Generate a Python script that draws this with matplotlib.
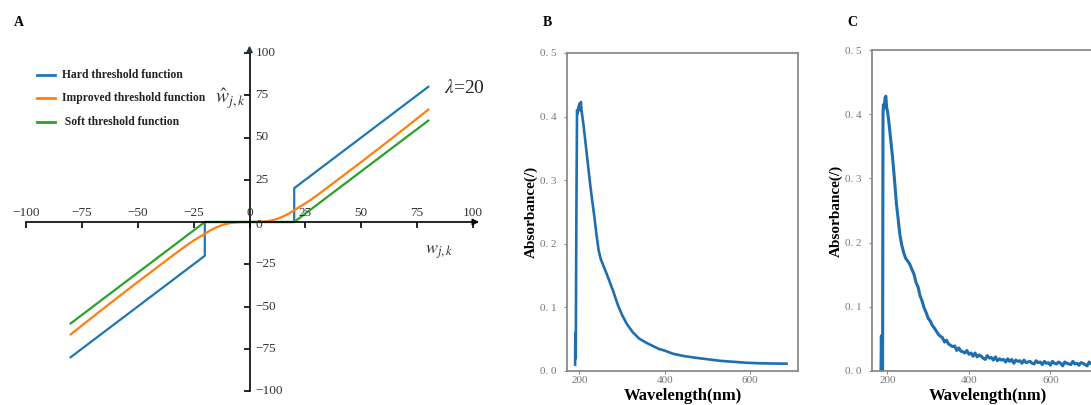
import matplotlib
matplotlib.use("Agg")
import matplotlib.pyplot as plt
from matplotlib.lines import Line2D

plt.rcParams['font.family'] = ['Liberation Serif', 'DejaVu Serif']
plt.rcParams['mathtext.fontset'] = 'stix'

# ---- panel A: threshold functions (lambda = 20) ----
hard_w = [-80, -20, -20, 20, 20, 80]
hard_v = [-80, -20, 0, 0, 20, 80]
soft_w = [-80, -20, 20, 80]
soft_v = [-60, 0, 0, 60]
impr_w = [-80, -70, -60, -50, -40, -32, -28, -25, -22, -20, -18, -16, -14, -12, -10, -8, -4, 0,
          4, 8, 10, 12, 14, 16, 18, 20, 22, 25, 28, 32, 40, 50, 60, 70, 80]
impr_v = [-66.5, -56.0, -45.7, -35.5, -25.5, -17.5, -13.7, -11.0, -8.6, -7.0, -5.3, -3.9, -2.7, -1.7, -1.0, -0.5, -0.05, 0,
          0.05, 0.5, 1.0, 1.7, 2.7, 3.9, 5.3, 7.0, 8.6, 11.0, 13.7, 17.5, 25.5, 35.5, 45.7, 56.0, 66.5]
labels = ["Hard threshold function", "Improved threshold function", " Soft threshold function"]
colors = ['#1f77b4', '#ff7f0e', '#2ca02c']
a_ticks = [-100, -75, -50, -25, 0, 25, 50, 75, 100]

# ---- panels B, C: absorbance spectra ----
nm_b = [190, 190.5, 191.5, 193, 194.5, 196, 198, 200, 202, 203.5, 205, 210, 215, 220, 225, 230, 235, 240,
        245, 250, 256, 262, 270, 280, 290, 300, 312, 325, 340, 355, 370, 385, 400, 420, 445, 470,
        500, 530, 560, 590, 620, 650, 685]
ab_b = [0.01, 0.06, 0.02, 0.25, 0.41, 0.405, 0.415, 0.42, 0.41, 0.423, 0.41, 0.385, 0.355, 0.325, 0.295,
        0.268, 0.243, 0.215, 0.19, 0.176, 0.166, 0.156, 0.142, 0.124, 0.104, 0.088, 0.073, 0.061, 0.051,
        0.045, 0.040, 0.035, 0.032, 0.027, 0.0235, 0.021, 0.0185, 0.016, 0.0145, 0.013, 0.0122, 0.0118, 0.0115]

nm_c = [184, 185, 186, 188, 189, 190, 192, 194, 196, 198, 200, 203, 206, 210, 214, 218, 222, 226, 230, 235,
        240, 245, 250, 255, 260, 265, 270, 275, 280, 285, 290, 295, 300, 305, 310, 315, 320, 325, 330, 335,
        340, 345, 350, 355, 360, 365, 370, 375, 380, 385, 390, 395, 400, 405, 410, 415, 420, 425, 430, 435,
        440, 445, 450, 455, 460, 465, 470, 475, 480, 485, 490, 495, 500, 505, 510, 515, 520, 525, 530, 535,
        540, 545, 550, 555, 560, 565, 570, 575, 580, 585, 590, 595, 600, 605, 610, 615, 620, 625, 630, 635,
        640, 645, 650, 655, 660, 665, 670, 675, 680, 685, 690, 695, 700, 705, 710]
ab_c = [0.0, 0.055, 0.0, 0.0, 0.40, 0.415, 0.41, 0.425, 0.428, 0.41, 0.405, 0.39, 0.372, 0.348, 0.322, 0.292,
        0.26, 0.238, 0.214, 0.196, 0.184, 0.175, 0.171, 0.166, 0.158, 0.151, 0.138, 0.131, 0.117, 0.109,
        0.098, 0.091, 0.082, 0.078, 0.071, 0.067, 0.062, 0.057, 0.054, 0.052, 0.045, 0.048, 0.042, 0.040,
        0.038, 0.039, 0.032, 0.036, 0.031, 0.030, 0.028, 0.032, 0.026, 0.028, 0.023, 0.028, 0.022, 0.025,
        0.023, 0.020, 0.018, 0.024, 0.020, 0.021, 0.017, 0.022, 0.016, 0.019, 0.017, 0.018, 0.014, 0.019,
        0.015, 0.018, 0.012, 0.017, 0.015, 0.016, 0.012, 0.017, 0.013, 0.014, 0.015, 0.012, 0.011, 0.016,
        0.013, 0.014, 0.010, 0.015, 0.012, 0.013, 0.009, 0.015, 0.012, 0.011, 0.014, 0.012, 0.008, 0.014,
        0.012, 0.011, 0.010, 0.015, 0.011, 0.012, 0.009, 0.013, 0.012, 0.010, 0.008, 0.014, 0.011, 0.013, 0.010]
spec_yticks = [0.0, 0.1, 0.2, 0.3, 0.4, 0.5]
spec_ylabels = ["0. 0", "0. 1", "0. 2", "0. 3", "0. 4", "0. 5"]
spec_xticks = [200, 400, 600]

W, H = 1091, 405
fig = plt.figure(figsize=(W / 100, H / 100), dpi=100)


def px(x, y):
    return x / W, 1 - y / H


# ================= A =================
ax = fig.add_axes([26 / W, (H - 391) / H, 447 / W, 338 / H])
ax.set_xlim(-100, 100)
ax.set_ylim(-100, 100)
for s in ['top', 'right']:
    ax.spines[s].set_visible(False)
ax.spines['left'].set_position(('data', 0))
ax.spines['bottom'].set_position(('data', 0))
ax.spines['left'].set_linewidth(1.2)
ax.spines['bottom'].set_linewidth(1.2)
ax.set_xticks(a_ticks)
ax.set_yticks(a_ticks)
ax.tick_params(direction='out', length=4, width=1.2, labelbottom=False, labelleft=False)
ax.annotate('', xy=(104, 0), xytext=(99, 0), annotation_clip=False,
            arrowprops=dict(arrowstyle='-|>', color='k', lw=1.2, mutation_scale=9))
ax.annotate('', xy=(0, 106), xytext=(0, 99), annotation_clip=False,
            arrowprops=dict(arrowstyle='-|>', color='#223344', lw=1.2, mutation_scale=9))

for v in a_ticks:
    lab = str(v).replace('-', '\u2212')
    ax.text(v, 5.5, lab, ha='center', va='center', fontsize=9.5, color='#333333')
    yy = -1.5 if v == 0 else v
    ax.text(2.6, yy, lab, ha='left', va='center', fontsize=9.5, color='#333333')

ax.plot(hard_w, hard_v, color=colors[0], lw=1.6, clip_on=False)
ax.plot(impr_w, impr_v, color=colors[1], lw=1.6, clip_on=False)
ax.plot(soft_w, soft_v, color=colors[2], lw=1.6, clip_on=False)

ax.text(-1.5, 73, r'$\hat{w}_{j,k}$', ha='right', va='center', fontsize=14, color='#333333')
ax.text(85, -18, r'$w_{j,k}$', ha='center', va='center', fontsize=13, color='#333333')
ax.text(96, 79, r'$\lambda$=20', ha='center', va='center', fontsize=14, color='#222222')

# legend drawn by hand
rows = [75, 98, 122]
for lab, c, yrow in zip(labels, colors, rows):
    x0, y0 = px(37, yrow)
    x1, _ = px(55, yrow)
    fig.add_artist(Line2D([x0, x1], [y0, y0], color=c, lw=2, transform=fig.transFigure))
    tx, ty = px(62, yrow)
    fig.text(tx, ty, lab, fontsize=8.4, fontweight='bold', va='center', ha='left', color='#222222')

# ================= B and C =================
def spectrum(left, top, bottom, xlim, nm, ab, lw):
    axs = fig.add_axes([left / W, (H - bottom) / H, 231 / W, (bottom - top) / H])
    axs.plot(nm, ab, color='#1f6fb0', lw=lw)
    axs.set_xlim(*xlim)
    axs.set_ylim(0, 0.5)
    axs.set_yticks(spec_yticks)
    axs.set_yticklabels(spec_ylabels)
    axs.set_xticks(spec_xticks)
    for s in axs.spines.values():
        s.set_color('#8a8a8a')
        s.set_linewidth(1.3)
    axs.tick_params(colors='#8a8a8a', labelcolor='#777777', labelsize=8, length=2.5, pad=5)
    axs.tick_params(axis='x', pad=1)
    axs.set_xlabel('Wavelength(nm)', fontsize=12, fontweight='bold')
    axs.set_ylabel('Absorbance(/)', fontsize=11, fontweight='bold')
    axs.xaxis.set_label_coords(0.5, -0.052)
    axs.yaxis.set_label_coords(-0.125, 0.5)
    return axs


spectrum(567, 53, 371, (171, 712), nm_b, ab_b, 1.9)
spectrum(872, 50, 371, (162, 729), nm_c, ab_c, 2.2)

for letter, (x, y) in zip(['A', 'B', 'C'], [(19, 23), (547, 23), (852, 23)]):
    fx, fy = px(x, y)
    fig.text(fx, fy, letter, fontsize=10, fontweight='bold', ha='center', va='center')

fig.savefig('out.png', dpi=100)
